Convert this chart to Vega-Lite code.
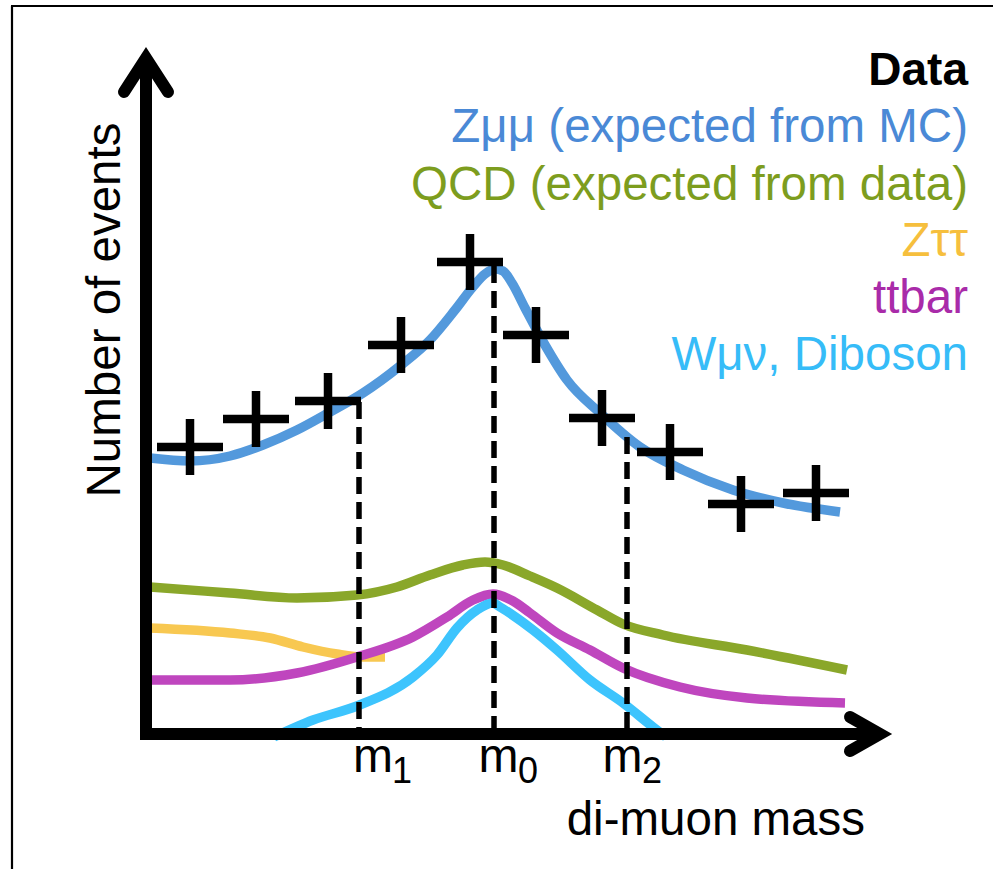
{
  "$schema": "https://vega.github.io/schema/vega-lite/v6.json",
  "width": 993,
  "height": 869,
  "padding": 0,
  "autosize": {"type": "none"},
  "background": "white",
  "config": {"view": {"stroke": null}, "font": "Liberation Sans"},
  "datasets": {
    "frame": [
      {"mass": -134, "events": 728, "mass2": -134, "events2": -140},
      {"mass": -135, "events": 728, "mass2": 850, "events2": 728}
    ],
    "curves": [
      {"series": "QCD", "mass": 4, "events": 147}, {"series": "QCD", "mass": 84, "events": 141},
      {"series": "QCD", "mass": 151, "events": 136}, {"series": "QCD", "mass": 211, "events": 139},
      {"series": "QCD", "mass": 251, "events": 147}, {"series": "QCD", "mass": 284, "events": 159},
      {"series": "QCD", "mass": 317, "events": 169}, {"series": "QCD", "mass": 339, "events": 172},
      {"series": "QCD", "mass": 357, "events": 169}, {"series": "QCD", "mass": 384, "events": 158},
      {"series": "QCD", "mass": 411, "events": 146}, {"series": "QCD", "mass": 451, "events": 124},
      {"series": "QCD", "mass": 477, "events": 110}, {"series": "QCD", "mass": 517, "events": 99},
      {"series": "QCD", "mass": 601, "events": 84}, {"series": "QCD", "mass": 701, "events": 64},
      {"series": "Ztautau", "mass": 4, "events": 106}, {"series": "Ztautau", "mass": 84, "events": 101},
      {"series": "Ztautau", "mass": 124, "events": 96}, {"series": "Ztautau", "mass": 157, "events": 87},
      {"series": "Ztautau", "mass": 191, "events": 80}, {"series": "Ztautau", "mass": 217, "events": 77},
      {"series": "Ztautau", "mass": 239, "events": 77},
      {"series": "ttbar", "mass": 4, "events": 54}, {"series": "ttbar", "mass": 84, "events": 54},
      {"series": "ttbar", "mass": 151, "events": 61}, {"series": "ttbar", "mass": 211, "events": 77},
      {"series": "ttbar", "mass": 267, "events": 97}, {"series": "ttbar", "mass": 301, "events": 117},
      {"series": "ttbar", "mass": 327, "events": 134}, {"series": "ttbar", "mass": 347, "events": 140},
      {"series": "ttbar", "mass": 367, "events": 133}, {"series": "ttbar", "mass": 384, "events": 121},
      {"series": "ttbar", "mass": 411, "events": 101}, {"series": "ttbar", "mass": 444, "events": 84},
      {"series": "ttbar", "mass": 477, "events": 66}, {"series": "ttbar", "mass": 534, "events": 47},
      {"series": "ttbar", "mass": 601, "events": 36}, {"series": "ttbar", "mass": 699, "events": 31},
      {"series": "W", "mass": 128, "events": -3}, {"series": "W", "mass": 167, "events": 14},
      {"series": "W", "mass": 211, "events": 28}, {"series": "W", "mass": 267, "events": 57},
      {"series": "W", "mass": 291, "events": 79}, {"series": "W", "mass": 311, "events": 106},
      {"series": "W", "mass": 331, "events": 124}, {"series": "W", "mass": 347, "events": 131},
      {"series": "W", "mass": 354, "events": 127}, {"series": "W", "mass": 387, "events": 104},
      {"series": "W", "mass": 411, "events": 84}, {"series": "W", "mass": 444, "events": 54},
      {"series": "W", "mass": 477, "events": 31}, {"series": "W", "mass": 507, "events": 7},
      {"series": "W", "mass": 520, "events": -3},
      {"series": "Zmumu", "mass": 4, "events": 276}, {"series": "Zmumu", "mass": 44, "events": 273},
      {"series": "Zmumu", "mass": 84, "events": 278}, {"series": "Zmumu", "mass": 117, "events": 289},
      {"series": "Zmumu", "mass": 151, "events": 304}, {"series": "Zmumu", "mass": 184, "events": 322},
      {"series": "Zmumu", "mass": 217, "events": 341}, {"series": "Zmumu", "mass": 254, "events": 368},
      {"series": "Zmumu", "mass": 284, "events": 394}, {"series": "Zmumu", "mass": 309, "events": 424},
      {"series": "Zmumu", "mass": 326, "events": 446}, {"series": "Zmumu", "mass": 339, "events": 460},
      {"series": "Zmumu", "mass": 349, "events": 465}, {"series": "Zmumu", "mass": 357, "events": 463},
      {"series": "Zmumu", "mass": 366, "events": 451}, {"series": "Zmumu", "mass": 379, "events": 426},
      {"series": "Zmumu", "mass": 399, "events": 389}, {"series": "Zmumu", "mass": 421, "events": 354},
      {"series": "Zmumu", "mass": 454, "events": 321}, {"series": "Zmumu", "mass": 494, "events": 287},
      {"series": "Zmumu", "mass": 537, "events": 264}, {"series": "Zmumu", "mass": 587, "events": 244},
      {"series": "Zmumu", "mass": 637, "events": 231}, {"series": "Zmumu", "mass": 694, "events": 222}
    ],
    "guides": [
      {"mark": "m1", "mass": 213, "events": 332, "events2": 0},
      {"mark": "m0", "mass": 348, "events": 468, "events2": 0},
      {"mark": "m2", "mass": 481, "events": 297, "events2": 0}
    ],
    "data": [
      {"mass": 44, "events": 287}, {"mass": 110, "events": 315}, {"mass": 182, "events": 333},
      {"mass": 255, "events": 389}, {"mass": 324, "events": 472}, {"mass": 390, "events": 399},
      {"mass": 456, "events": 316}, {"mass": 524, "events": 282}, {"mass": 595, "events": 230},
      {"mass": 670, "events": 241}
    ],
    "shafts": [
      {"mass": 0, "events": -6, "mass2": 0, "events2": 676},
      {"mass": -6, "events": 0, "mass2": 734, "events2": 0}
    ],
    "heads": [
      {"arrow": "y", "k": 0, "mass": -22, "events": 642},
      {"arrow": "y", "k": 1, "mass": 0, "events": 676},
      {"arrow": "y", "k": 2, "mass": 22, "events": 642},
      {"arrow": "x", "k": 0, "mass": 704, "events": 17},
      {"arrow": "x", "k": 1, "mass": 734, "events": 0},
      {"arrow": "x", "k": 2, "mass": 704, "events": -17}
    ],
    "legend": [
      {"series": "Data", "label": "Data", "mass": 822, "events": 649},
      {"series": "Zmumu", "label": "Zμμ (expected from MC)", "mass": 822, "events": 592},
      {"series": "QCD", "label": "QCD (expected from data)", "mass": 822, "events": 534},
      {"series": "Ztautau", "label": "Zττ", "mass": 822, "events": 478},
      {"series": "ttbar", "label": "ttbar", "mass": 822, "events": 421},
      {"series": "W", "label": "Wμν, Diboson", "mass": 822, "events": 364}
    ],
    "ticks": [
      {"label": "m", "sub": "1", "mass": 227, "events": -38, "subMass": 246, "subEvents": -49},
      {"label": "m", "sub": "0", "mass": 352.5, "events": -38, "subMass": 372, "subEvents": -49},
      {"label": "m", "sub": "2", "mass": 476.5, "events": -38, "subMass": 496, "subEvents": -49}
    ],
    "titles": [
      {"title": "Number of events", "mass": -26, "events": 424, "angle": 270},
      {"title": "di-muon mass", "mass": 719, "events": -101, "angle": 0}
    ]
  },
  "encoding": {
    "x": {"field": "mass", "type": "quantitative", "scale": {"domain": [-146, 847], "nice": false, "zero": false}, "axis": null},
    "y": {"field": "events", "type": "quantitative", "scale": {"domain": [-135, 734], "nice": false, "zero": false}, "axis": null}
  },
  "layer": [
    {
      "data": {"name": "frame"},
      "mark": {"type": "rule", "stroke": "black", "strokeWidth": 2.2},
      "encoding": {"x2": {"field": "mass2"}, "y2": {"field": "events2"}}
    },
    {
      "data": {"name": "curves"},
      "transform": [{"filter": "datum.series === 'QCD'"}],
      "mark": {"type": "line", "stroke": "#8aa72a", "strokeWidth": 9.5, "interpolate": "monotone", "strokeJoin": "round"},
      "encoding": {}
    },
    {
      "data": {"name": "curves"},
      "transform": [{"filter": "datum.series === 'Ztautau'"}],
      "mark": {"type": "line", "stroke": "#f8c851", "strokeWidth": 9.5, "interpolate": "monotone", "strokeJoin": "round"},
      "encoding": {}
    },
    {
      "data": {"name": "curves"},
      "transform": [{"filter": "datum.series === 'ttbar'"}],
      "mark": {"type": "line", "stroke": "#bf46be", "strokeWidth": 9.5, "interpolate": "monotone", "strokeJoin": "round"},
      "encoding": {}
    },
    {
      "data": {"name": "curves"},
      "transform": [{"filter": "datum.series === 'W'"}],
      "mark": {"type": "line", "stroke": "#3dc4fd", "strokeWidth": 9.5, "interpolate": "monotone", "strokeJoin": "round"},
      "encoding": {}
    },
    {
      "data": {"name": "curves"},
      "transform": [{"filter": "datum.series === 'Zmumu'"}],
      "mark": {"type": "line", "stroke": "#5399dc", "strokeWidth": 9.5, "interpolate": "monotone", "strokeJoin": "round"},
      "encoding": {}
    },
    {
      "data": {"name": "guides"},
      "mark": {"type": "rule", "stroke": "black", "strokeWidth": 5.5, "strokeDash": [17, 8]},
      "encoding": {"y2": {"field": "events2"}}
    },
    {
      "data": {"name": "data"},
      "mark": {"type": "point", "shape": "M-1,0H1M0,-0.85V0.85", "size": 4356, "filled": false, "stroke": "black", "strokeWidth": 8.5, "opacity": 1}
    },
    {
      "data": {"name": "shafts"},
      "mark": {"type": "rule", "stroke": "black", "strokeWidth": 12, "strokeCap": "butt"},
      "encoding": {"x2": {"field": "mass2"}, "y2": {"field": "events2"}}
    },
    {
      "data": {"name": "heads"},
      "mark": {"type": "line", "stroke": "black", "strokeWidth": 12, "strokeJoin": "miter", "strokeCap": "round"},
      "encoding": {"detail": {"field": "arrow"}, "order": {"field": "k", "type": "quantitative"}}
    },
    {
      "data": {"name": "legend"},
      "transform": [{"filter": "datum.series !== 'Data'"}],
      "mark": {"type": "text", "align": "right", "baseline": "alphabetic", "fontSize": 47.5},
      "encoding": {
        "text": {"field": "label"},
        "fill": {"field": "series", "type": "nominal", "legend": null,
          "scale": {"domain": ["Zmumu", "QCD", "Ztautau", "ttbar", "W"], "range": ["#4a89d6", "#7d9d1e", "#f6bf3d", "#a92ba9", "#36bcf8"]}}
      }
    },
    {
      "data": {"name": "legend"},
      "transform": [{"filter": "datum.series === 'Data'"}],
      "mark": {"type": "text", "align": "right", "baseline": "alphabetic", "fontSize": 46, "fontWeight": "bold", "fill": "black"},
      "encoding": {"text": {"field": "label"}}
    },
    {
      "data": {"name": "ticks"},
      "mark": {"type": "text", "align": "center", "baseline": "alphabetic", "fontSize": 48, "fill": "black"},
      "encoding": {"text": {"field": "label"}}
    },
    {
      "data": {"name": "ticks"},
      "mark": {"type": "text", "align": "left", "baseline": "alphabetic", "fontSize": 36, "fill": "black"},
      "encoding": {
        "text": {"field": "sub"},
        "x": {"field": "subMass", "type": "quantitative"},
        "y": {"field": "subEvents", "type": "quantitative"}
      }
    },
    {
      "data": {"name": "titles"},
      "transform": [{"filter": "datum.angle === 270"}],
      "mark": {"type": "text", "align": "center", "baseline": "alphabetic", "fontSize": 47.5, "angle": 270, "fill": "black"},
      "encoding": {"text": {"field": "title"}}
    },
    {
      "data": {"name": "titles"},
      "transform": [{"filter": "datum.angle === 0"}],
      "mark": {"type": "text", "align": "right", "baseline": "alphabetic", "fontSize": 47.5, "fill": "black"},
      "encoding": {"text": {"field": "title"}}
    }
  ]
}
